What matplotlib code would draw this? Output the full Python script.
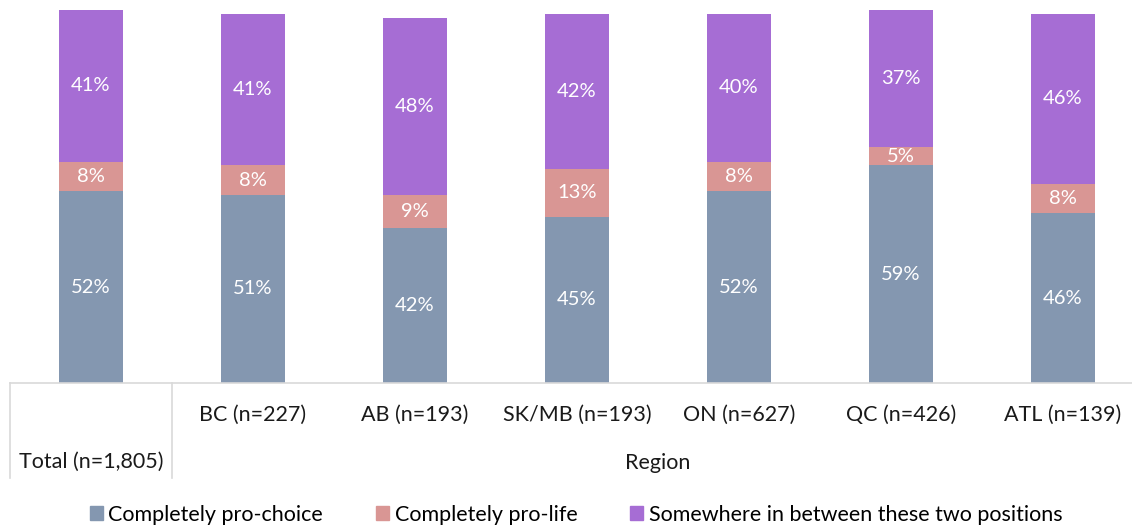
import numpy as np
import matplotlib
matplotlib.use("Agg")
import matplotlib.pyplot as plt
from matplotlib.lines import Line2D
from matplotlib.patches import Patch

plt.rcParams['font.family'] = ['Lato', 'DejaVu Sans']

# data
categories = ["Total (n=1,805)", "BC (n=227)", "AB (n=193)", "SK/MB (n=193)",
              "ON (n=627)", "QC (n=426)", "ATL (n=139)"]
pro_choice = [52, 51, 42, 45, 52, 59, 46]
pro_life = [8, 8, 9, 13, 8, 5, 8]
in_between = [41, 41, 48, 42, 40, 37, 46]
series_names = ["Completely pro-choice", "Completely pro-life",
                "Somewhere in between these two positions"]
colors = ["#8497B0", "#D99694", "#A66DD4"]

W, H = 1132, 527
fig = plt.figure(figsize=(W / 100, H / 100), dpi=100)
ax = fig.add_axes([10 / W, (H - 383) / H, 1134 / W, 383 / H])

x = np.arange(len(categories))
bottom = np.zeros(len(categories))
for vals, col in zip([pro_choice, pro_life, in_between], colors):
    vals = np.array(vals, dtype=float)
    ax.bar(x, vals, bottom=bottom, width=0.395, color=col, edgecolor="none")
    for xi, b, v in zip(x, bottom, vals):
        ax.text(xi, b + v / 2, f"{int(v)}%", ha="center", va="center",
                color="white", fontsize=14.5)
    bottom += vals

ax.set_xlim(-0.5, 6.5)
ax.set_ylim(0, 103.8)
for s in ["top", "right", "left"]:
    ax.spines[s].set_visible(False)
ax.spines["bottom"].set_color("#D9D9D9")
ax.spines["bottom"].set_linewidth(1.2)
ax.set_xticks([])
ax.set_yticks([])

# category labels under axis
for xi, lab in zip(x[1:], categories[1:]):
    fig.text((10 + 81 + 162 * xi) / W, (H - 415) / H, lab, ha="center",
             va="center", fontsize=15.5, color="#1a1a1a")
fig.text(91 / W, (H - 462) / H, categories[0], ha="center", va="center",
         fontsize=15.5, color="#1a1a1a")
fig.text(658 / W, (H - 463) / H, "Region", ha="center", va="center",
         fontsize=15.5, color="#1a1a1a")

# group divider lines
for px in [10, 172]:
    fig.add_artist(Line2D([px / W, px / W], [(H - 383) / H, (H - 478) / H],
                          color="#D9D9D9", lw=1.2))

handles = [Patch(color=c) for c in colors]
fig.legend(handles, series_names, loc="center", bbox_to_anchor=(576 / W, (H - 515) / H),
           ncol=3, frameon=False, fontsize=15.5, handlelength=0.62, handleheight=0.62,
           handletextpad=0.25, columnspacing=2.45, borderpad=0)

fig.savefig("out.png", dpi=100)
